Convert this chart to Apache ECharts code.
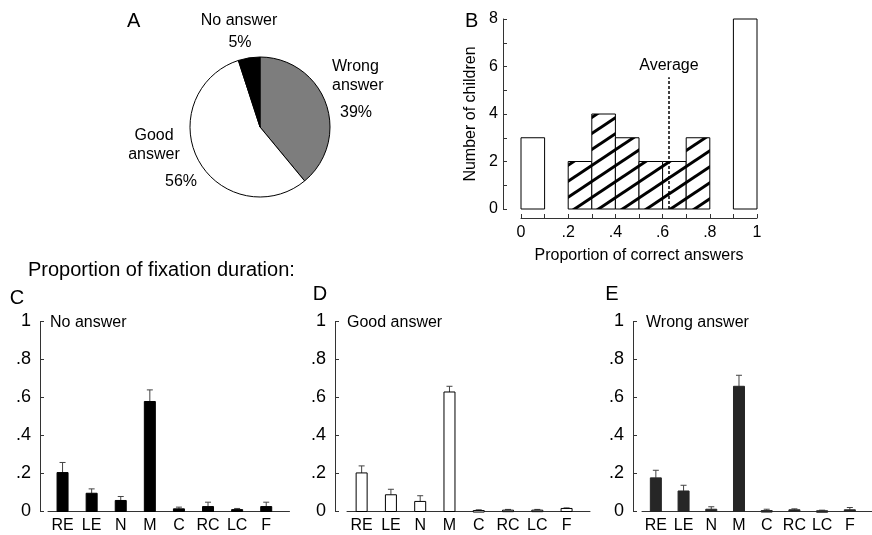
<!DOCTYPE html>
<html><head><meta charset="utf-8">
<script src="https://cdn.jsdelivr.net/npm/echarts@6/dist/echarts.min.js"></script>
<style>html,body{margin:0;padding:0;background:#fff}#c{width:872px;height:535px}</style>
</head><body><div id="c"></div>
<script>
// ---------- DATA ----------
// Panel A: answer distribution (%)
const pieNames = ['Wrong answer', 'Good answer', 'No answer'];
const pieValues = [39, 56, 5];

// Panel B: histogram of proportion of correct answers
const binStarts = [0.0, 0.2, 0.3, 0.4, 0.5, 0.6, 0.7, 0.9];
const binEnds   = [0.1, 0.3, 0.4, 0.5, 0.6, 0.7, 0.8, 1.0];
const binCounts = [3, 2, 4, 3, 2, 2, 3, 8];
const averageProportion = 0.627;
const histXTicks = ['0', '.2', '.4', '.6', '.8', '1'];

// Panels C, D, E: proportion of fixation duration by area of interest
const aoiCategories = ['RE', 'LE', 'N', 'M', 'C', 'RC', 'LC', 'F'];
const noAnswerMean  = [0.205, 0.096, 0.058, 0.579, 0.014, 0.026, 0.010, 0.026];
const noAnswerErr   = [0.053, 0.023, 0.021, 0.061, 0.009, 0.023, 0.006, 0.023];
const goodAnswerMean = [0.203, 0.088, 0.053, 0.629, 0.005, 0.007, 0.007, 0.016];
const goodAnswerErr  = [0.037, 0.029, 0.030, 0.030, 0.004, 0.004, 0.004, 0.003];
const wrongAnswerMean = [0.177, 0.108, 0.012, 0.659, 0.005, 0.009, 0.004, 0.009];
const wrongAnswerErr  = [0.040, 0.030, 0.013, 0.058, 0.007, 0.005, 0.003, 0.012];
const propTickLabels = ['0', '.2', '.4', '.6', '.8', '1'];

// ---------- STYLE ----------
const FONT = "'Liberation Sans', Arial, sans-serif";
const AX = '#333';
const pieColors = ['#7d7d7d', '#ffffff', '#000000'];

function makeHatch() {
  const c = document.createElement('canvas');
  c.width = 24; c.height = 16;
  const g = c.getContext('2d');
  g.fillStyle = '#fff'; g.fillRect(0, 0, 24, 16);
  g.strokeStyle = '#000'; g.lineWidth = 3;
  for (const dy of [-16, 0, 16]) {
    g.beginPath();
    g.moveTo(-3, 16 + dy + 2);
    g.lineTo(27, 16 + dy - 18);
    g.stroke();
  }
  return c;
}
const hatch = { image: makeHatch(), repeat: 'repeat' };

const chart = echarts.init(document.getElementById('c'), null, { renderer: 'canvas' });

// ---------- PANEL LAYOUTS ----------
const panels = [
  { mean: noAnswerMean, err: noAnswerErr, title: 'No answer', letter: 'C',
    fill: '#000', stroke: '#000', left: 48, width: 241.5, yOff: 8, letterX: 17, letterY: 298, titleX: 50 },
  { mean: goodAnswerMean, err: goodAnswerErr, title: 'Good answer', letter: 'D',
    fill: '#fff', stroke: '#000', left: 347, width: 243, yOff: 12, letterX: 320, letterY: 294, titleX: 347 },
  { mean: wrongAnswerMean, err: wrongAnswerErr, title: 'Wrong answer', letter: 'E',
    fill: '#262626', stroke: '#262626', left: 642, width: 246.5, yOff: 9, letterX: 612, letterY: 294, titleX: 646 }
];

const grids = [{ left: 521, top: 19, width: 236, height: 190 }];
const xAxes = [{
  gridIndex: 0, type: 'value', min: 0, max: 1, interval: 0.1, offset: 9,
  axisLine: { show: true, onZero: false, lineStyle: { color: AX, width: 1 } },
  axisTick: { show: true, inside: true, length: 4, lineStyle: { color: AX } },
  splitLine: { show: false },
  axisLabel: {
    color: '#000', fontFamily: FONT, fontSize: 16, margin: 7,
    formatter: v => { const k = Math.round(v * 10); return k % 2 === 0 ? histXTicks[k / 2] : ''; }
  },
  name: 'Proportion of correct answers', nameLocation: 'middle', nameGap: 30,
  nameTextStyle: { color: '#000', fontFamily: FONT, fontSize: 16 }
}];
const yAxes = [{
  gridIndex: 0, type: 'value', min: 0, max: 8, interval: 1, offset: 18,
  axisLine: { show: true, onZero: false, lineStyle: { color: AX, width: 1 } },
  axisTick: { show: true, inside: true, length: 4, lineStyle: { color: AX } },
  splitLine: { show: false },
  axisLabel: { color: '#000', fontFamily: FONT, fontSize: 16, margin: 5,
    formatter: v => (v % 2 === 0 ? String(v) : '') },
  name: 'Number of children', nameLocation: 'middle', nameGap: 24, nameRotate: 90,
  nameTextStyle: { color: '#000', fontFamily: FONT, fontSize: 16 }
}];

const series = [];

// Pie (A)
series.push({
  type: 'pie', center: [260, 127], radius: 70, startAngle: 90, clockwise: true,
  silent: true, animation: false,
  label: { show: false }, labelLine: { show: false },
  itemStyle: { borderColor: '#000', borderWidth: 1 },
  data: pieNames.map((n, i) => ({ name: n, value: pieValues[i], itemStyle: { color: pieColors[i] } }))
});

// Histogram (B)
series.push({
  type: 'custom', xAxisIndex: 0, yAxisIndex: 0, animation: false, silent: true,
  data: binCounts.map((c, i) => [binStarts[i], binEnds[i], c]),
  renderItem: (params, api) => {
    const lo = api.value(0), hi = api.value(1), n = api.value(2);
    const p0 = api.coord([lo, n]);
    const p1 = api.coord([hi, 0]);
    const mixed = lo > 0 && hi < 1;
    return {
      type: 'rect',
      shape: { x: p0[0], y: p0[1], width: p1[0] - p0[0], height: p1[1] - p0[1] },
      style: { fill: mixed ? hatch : '#fff', stroke: '#000', lineWidth: 1 }
    };
  },
  markLine: {
    silent: true, symbol: 'none', animation: false,
    lineStyle: { color: '#000', type: [3, 2], width: 1.5 },
    label: { show: true, position: 'end', formatter: 'Average', color: '#000', fontFamily: FONT, fontSize: 16, distance: 4 },
    data: [[{ coord: [averageProportion, 0] }, { coord: [averageProportion, 5.55] }]]
  }
});

const graphics = [
  { type: 'text', left: 127, top: 11, style: { text: 'A', font: `20px ${FONT}`, fill: '#000' } },
  { type: 'text', left: 465, top: 11, style: { text: 'B', font: `20px ${FONT}`, fill: '#000' } },
  { type: 'text', left: 28, top: 260, style: { text: 'Proportion of fixation duration:', font: `20px ${FONT}`, fill: '#000' } }
];

// Pie labels (text from data arrays)
const pieLabelLayout = [
  { name: [332, 76.5, 'left', 'Wrong\nanswer'], pct: [356, 113] },
  { name: [154, 145.5, 'center', 'Good\nanswer'], pct: [181, 182] },
  { name: [239, 21, 'center', null], pct: [240, 43] }
];
pieNames.forEach((n, i) => {
  const L = pieLabelLayout[i];
  const txt = L.name[3] ? n.replace(' ', '\n') : n;
  graphics.push({ type: 'text', x: L.name[0], y: L.name[1],
    style: { text: txt, font: `16px ${FONT}`, fill: '#000', align: L.name[2], verticalAlign: 'middle', lineHeight: 19 } });
  graphics.push({ type: 'text', x: L.pct[0], y: L.pct[1],
    style: { text: pieValues[i] + '%', font: `16px ${FONT}`, fill: '#000', align: 'center', verticalAlign: 'middle' } });
});

panels.forEach((p, k) => {
  const gi = k + 1;
  grids.push({ left: p.left, top: 321.5, width: p.width, height: 190 });
  xAxes.push({
    gridIndex: gi, type: 'value', min: -0.5, max: 7.8,
    axisLine: { show: true, onZero: false, lineStyle: { color: AX, width: 1 } },
    axisTick: { show: false }, splitLine: { show: false },
    axisLabel: { color: '#000', fontFamily: FONT, fontSize: 16, margin: 6,
      customValues: aoiCategories.map((c, i) => i),
      formatter: v => aoiCategories[Math.round(v)] || '' }
  });
  yAxes.push({
    gridIndex: gi, type: 'value', min: 0, max: 1, interval: 0.2, offset: p.yOff,
    axisLine: { show: true, onZero: false, lineStyle: { color: AX, width: 1 } },
    axisTick: { show: true, inside: true, length: 4, lineStyle: { color: AX } },
    splitLine: { show: false },
    axisLabel: { color: '#000', fontFamily: FONT, fontSize: 18, margin: 9,
      formatter: v => propTickLabels[Math.round(v * 5)] }
  });
  series.push({
    type: 'custom', xAxisIndex: gi, yAxisIndex: gi, animation: false, silent: true, z: 3,
    data: p.mean.map((m, i) => [i, m, p.err[i]]),
    renderItem: (params, api) => {
      const i = api.value(0), m = api.value(1), e = api.value(2);
      const top = api.coord([i, m]);
      const base = api.coord([i, 0]);
      const eTop = api.coord([i, m + e]);
      const w = 11;
      return {
        type: 'group', children: [
          { type: 'line', shape: { x1: top[0], y1: top[1], x2: eTop[0], y2: eTop[1] },
            style: { stroke: '#444', lineWidth: 1 } },
          { type: 'line', shape: { x1: eTop[0] - 3, y1: eTop[1], x2: eTop[0] + 3, y2: eTop[1] },
            style: { stroke: '#444', lineWidth: 1 } },
          { type: 'rect', shape: { x: top[0] - w / 2, y: top[1], width: w, height: Math.max(base[1] - top[1], 1.5) },
            style: { fill: p.fill, stroke: p.stroke, lineWidth: 1 } }
        ]
      };
    }
  });
  graphics.push({ type: 'text', x: p.letterX, y: p.letterY,
    style: { text: p.letter, font: `20px ${FONT}`, fill: '#000', align: 'center', verticalAlign: 'middle' } });
  graphics.push({ type: 'text', x: p.titleX, y: 323,
    style: { text: p.title, font: `16px ${FONT}`, fill: '#000', align: 'left', verticalAlign: 'middle' } });
});

chart.setOption({
  backgroundColor: '#fff',
  animation: false,
  grid: grids, xAxis: xAxes, yAxis: yAxes,
  series: series,
  graphic: graphics
});
</script></body></html>
